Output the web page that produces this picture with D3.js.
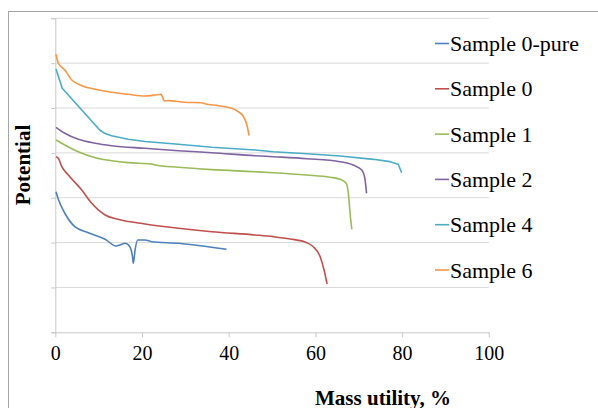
<!DOCTYPE html>
<html>
<head>
<meta charset="utf-8">
<script src="https://cdn.jsdelivr.net/npm/d3@7"></script>
<style>
  body { margin: 0; background: #fff; }
  svg { display: block; }
</style>
</head>
<body>
<svg width="598" height="408"></svg>
<script>
// series names + colours (legend order)
const seriesNames = ['Sample 0-pure', 'Sample 0', 'Sample 1', 'Sample 2', 'Sample 4', 'Sample 6'];
const seriesColors = ['#4F81BD', '#C0504D', '#9BBB59', '#8064A2', '#4BACC6', '#F79646'];
const xTicks = [0, 20, 40, 60, 80, 100];

// each series: [mass utility %, potential]
const sample0pure = [[0.16,1.567],[0.7,1.482],[2.2,1.327],[4.5,1.177],[7.6,1.110],[11.5,1.037],[14.0,0.962],
  [14.9,0.973],[16.1,0.992],[17.2,0.954],[17.8,0.843],[18.0,0.769],[18.4,0.917],[19.0,1.029],[20.7,1.029],
  [22.2,1.010],[28.4,0.992],[39.5,0.925]];
const sample0 = [[0.16,1.957],[0.7,1.940],[1.5,1.846],[3.0,1.753],[6.1,1.586],[8.4,1.438],[11.5,1.308],
  [14.5,1.260],[20.7,1.207],[28.4,1.159],[36.1,1.121],[46.1,1.085],[50.3,1.066],[54.2,1.040],[58.0,0.999],
  [59.5,0.954],[61.1,0.843],[62.0,0.694],[62.7,0.538]];
const sample1 = [[0.16,2.144],[2.2,2.088],[5.3,2.013],[9.2,1.946],[13.0,1.913],[16.8,1.891],[22.2,1.876],
  [23.0,1.865],[28.4,1.839],[36.1,1.813],[46.1,1.790],[50.3,1.779],[58.0,1.753],[63.4,1.728],[65.7,1.706],
  [67.1,1.661],[67.6,1.549],[68.0,1.327],[68.4,1.147]];
const sample2 = [[0.16,2.285],[2.2,2.218],[5.3,2.151],[9.2,2.107],[13.0,2.080],[20.7,2.051],[28.4,2.024],
  [36.1,2.002],[46.1,1.968],[50.3,1.957],[58.0,1.935],[65.7,1.902],[68.7,1.864],[70.7,1.809],[71.4,1.717],
  [71.8,1.549]];
const sample4 = [[0.16,2.935],[1.6,2.720],[10.3,2.252],[11.5,2.215],[13.0,2.190],[16.8,2.151],[20.7,2.127],
  [28.4,2.096],[36.1,2.062],[46.1,2.032],[50.3,2.013],[58.0,1.991],[65.7,1.965],[73.4,1.928],[77.2,1.902],
  [79.1,1.873],[79.9,1.779]];
const sample6 = [[0.16,3.099],[0.7,2.999],[2.2,2.924],[3.8,2.812],[6.1,2.749],[9.2,2.709],[13.0,2.675],
  [16.8,2.653],[20.7,2.634],[23.0,2.645],[24.4,2.653],[24.7,2.626],[25.1,2.580],[26.1,2.582],[29.9,2.564],
  [33.8,2.559],[34.5,2.548],[37.6,2.526],[40.7,2.497],[42.2,2.459],[43.4,2.403],[44.2,2.311],[44.7,2.192]];

const seriesData = [sample0pure, sample0, sample1, sample2, sample4, sample6];

const FONT = "'Liberation Serif', 'Times New Roman', serif";
const svg = d3.select('svg');

// outer chart frame (runs off the right/bottom edges like the original)
svg.append('rect')
  .attr('x', 8.5).attr('y', 11.5)
  .attr('width', 600).attr('height', 400)
  .attr('fill', 'none').attr('stroke', '#a6a6a6');

const margin = { top: 18.3, left: 55.3 };
const innerWidth = 433.5;
const innerHeight = 314;

const g = svg.append('g')
  .attr('transform', `translate(${margin.left},${margin.top})`);

const xScale = d3.scaleLinear().domain([0, 100]).range([0, innerWidth]);
const yScale = d3.scaleLinear().domain([0, 3.5]).range([innerHeight, 0]);
const yTicks = d3.range(0, 3.51, 0.5);

// horizontal gridlines
g.selectAll('.grid').data(yTicks.slice(1)).enter().append('line')
  .attr('x1', 0).attr('x2', innerWidth)
  .attr('y1', d => yScale(d)).attr('y2', d => yScale(d))
  .attr('stroke', '#d9d9d9').attr('stroke-width', 1);

// y axis: line + small ticks, no labels
const yAxis = d3.axisLeft(yScale).tickValues(yTicks).tickSize(4).tickFormat('');
const yAxisG = g.append('g').call(yAxis);
yAxisG.selectAll('line, path').attr('stroke', '#c8c8c8');

// x axis
const xAxis = d3.axisBottom(xScale).tickValues(xTicks).tickSize(5).tickSizeOuter(0).tickPadding(9);
const xAxisG = g.append('g').attr('transform', `translate(0,${innerHeight})`).call(xAxis);
xAxisG.selectAll('line, path').attr('stroke', '#c8c8c8');
xAxisG.selectAll('text')
  .style('font-family', FONT)
  .style('font-size', '20px')
  .attr('fill', '#000');

// curves (Sample 4 has a straight early segment, so no smoothing there)
const line = d3.line()
  .x(d => xScale(d[0]))
  .y(d => yScale(d[1]))
  .curve(d3.curveMonotoneX);
const straight = d3.line()
  .x(d => xScale(d[0]))
  .y(d => yScale(d[1]));

g.selectAll('.series').data(seriesData).enter().append('path')
  .attr('d', (d, i) => i === 4 ? straight(d) : line(d))
  .attr('fill', 'none')
  .attr('stroke', (d, i) => seriesColors[i])
  .attr('stroke-width', 1.6)
  .attr('stroke-linejoin', 'round');

// legend
const legend = svg.append('g');
seriesNames.forEach((name, i) => {
  const cy = 43.5 + i * 45.3;
  legend.append('line')
    .attr('x1', 435).attr('x2', 449)
    .attr('y1', cy).attr('y2', cy)
    .attr('stroke', seriesColors[i]).attr('stroke-width', 1.6);
  legend.append('text')
    .attr('x', 450).attr('y', cy + 7.5)
    .style('font-family', FONT)
    .style('font-size', '22px')
    .text(name);
});

// axis titles
svg.append('text')
  .attr('x', 383).attr('y', 405)
  .attr('text-anchor', 'middle')
  .style('font-family', FONT)
  .style('font-size', '21px').style('font-weight', 'bold')
  .text('Mass utility, %');

svg.append('text')
  .attr('transform', 'translate(30,165) rotate(-90)')
  .attr('text-anchor', 'middle')
  .style('font-family', FONT)
  .style('font-size', '21px').style('font-weight', 'bold')
  .text('Potential');
</script>
</body>
</html>
